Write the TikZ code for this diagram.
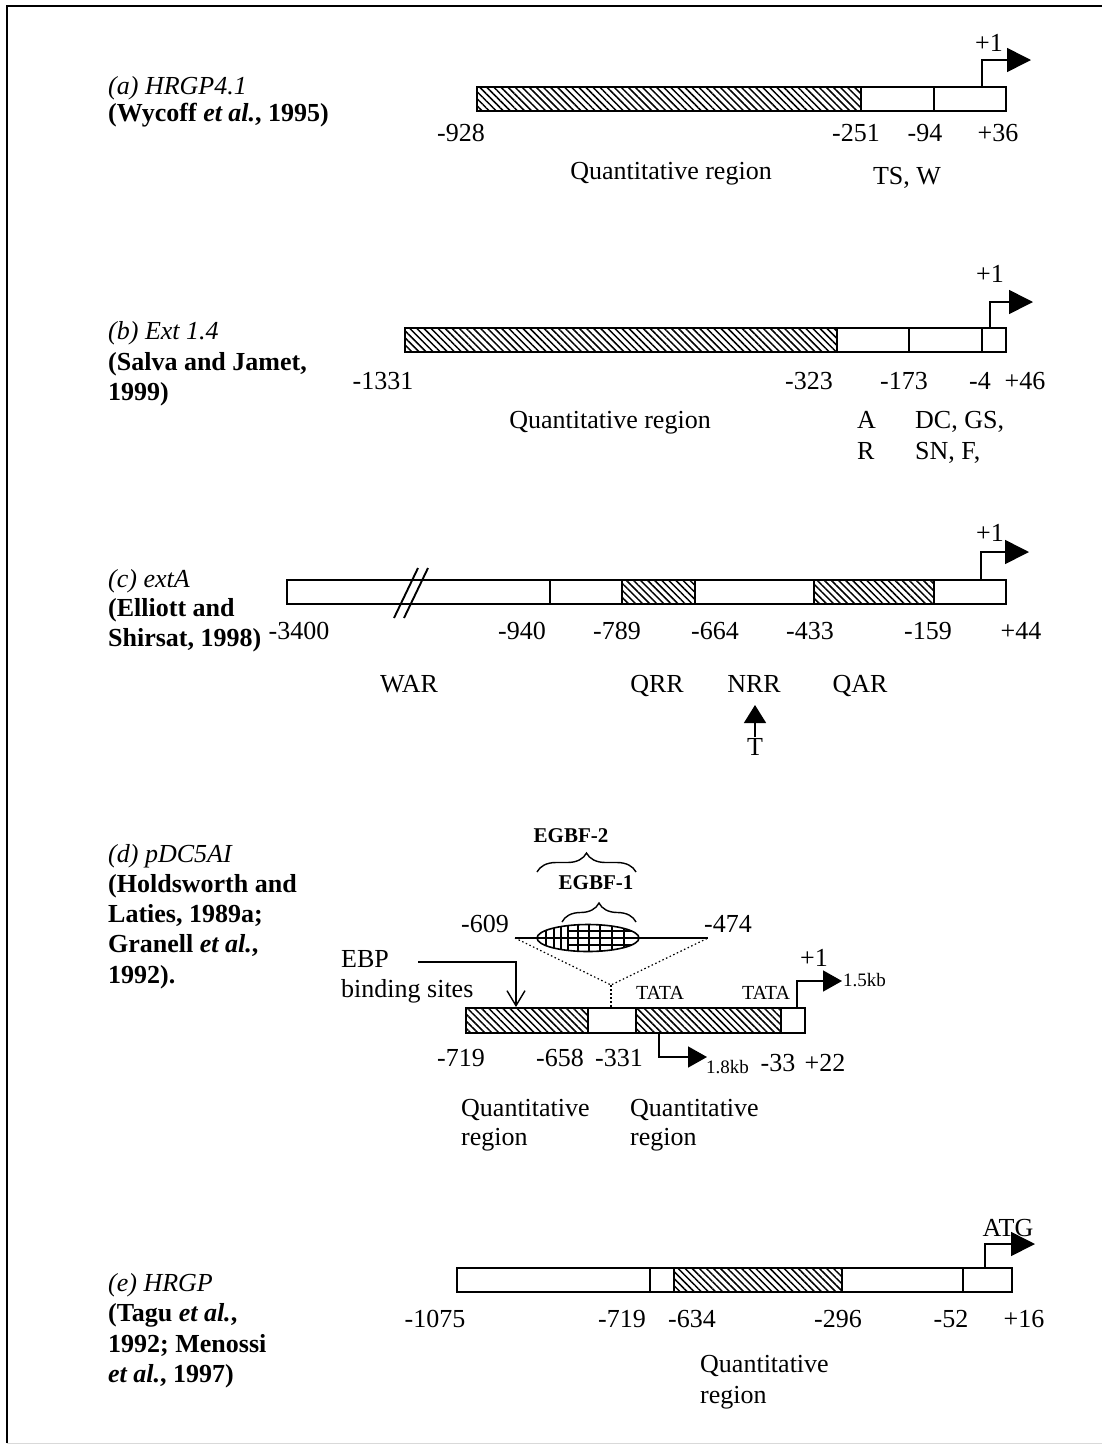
\documentclass[tikz,border=0pt]{standalone}
\usepackage{fontspec}
\setmainfont{Liberation Serif}
\usetikzlibrary{arrows.meta,patterns.meta,decorations.pathreplacing}
\begin{document}
\begin{tikzpicture}[x=1pt,y=-1pt,
 seg/.style={draw,line width=1.7pt,fill=white},
 hseg/.style={draw,line width=1.7pt,pattern={Lines[angle=-45,distance=5pt,line width=1.5pt]}},
 txt/.style={font=\fontsize{26}{30}\selectfont,inner sep=0pt,anchor=base},
 ltxt/.style={txt,anchor=base west},
 ital/.style={ltxt,font=\fontsize{26}{30}\selectfont\itshape},
 bld/.style={ltxt,font=\fontsize{26}{30}\selectfont\bfseries},
 sm/.style={font=\fontsize{20}{24}\selectfont,inner sep=0pt,anchor=base},
 smb/.style={sm,font=\fontsize{21}{24}\selectfont\bfseries},
 tss/.style={line width=1.6pt,-{Triangle[length=24pt,width=24pt]}},
 tssd/.style={line width=1.6pt,-{Triangle[length=19pt,width=21pt]}},
 dots/.style={line width=1.2pt,dash pattern=on 1.5pt off 2.5pt},
 brc/.style={line width=1.4pt,decorate,decoration={brace,amplitude=19pt}},
]
\useasboundingbox (0,0) rectangle (1102,1446);
% frame
\draw[line width=2pt] (7,1443) -- (7,6) -- (1102,6);
\draw[line width=1pt,black!15] (7,1443) -- (1102,1443);

% ---------- (a)
\node[ital] (la1) at (108,94) {(a) HRGP4.1};
\node[bld] (la2) at (108,121) {(Wycoff \textit{et al.}, 1995)};
\draw[hseg] (477,87) rectangle (861,111);
\draw[seg] (861,87) rectangle (934,111);
\draw[seg] (934,87) rectangle (1006,111);
\coordinate (a0) at (982,87); \coordinate (a1) at (1031,60);
\draw[tss] (a0) |- (a1);
\node[txt] (ap1) at (989,51) {+1};
\node[txt] (an1) at (461,141) {-928};
\node[txt] (an2) at (856,141) {-251};
\node[txt] (an3) at (925,141) {-94};
\node[txt] (an4) at (998,141) {+36};
\node[txt] (aq) at (671,179) {Quantitative region};
\node[txt] (ats) at (907,184) {TS, W};

% ---------- (b)
\node[ital] (lb1) at (108,339) {(b) Ext 1.4};
\node[bld] (lb2) at (108,370) {(Salva and Jamet,};
\node[bld] (lb3) at (108,400) {1999)};
\draw[hseg] (405,328) rectangle (837,352);
\draw[seg] (837,328) rectangle (909,352);
\draw[seg] (909,328) rectangle (982,352);
\draw[seg] (982,328) rectangle (1006,352);
\coordinate (b0) at (990,328); \coordinate (b1) at (1033,302);
\draw[tss] (b0) |- (b1);
\node[txt] (bp1) at (990,282) {+1};
\node[txt] (bn1) at (383,389) {-1331};
\node[txt] (bn2) at (809,389) {-323};
\node[txt] (bn3) at (904,389) {-173};
\node[txt] (bn4) at (980,389) {-4};
\node[txt] (bn5) at (1025,389) {+46};
\node[txt] (bq) at (610,428) {Quantitative region};
\node[ltxt] (bA) at (857,428) {A};
\node[ltxt] (bDC) at (915,428) {DC, GS,};
\node[ltxt] (bR) at (857,459) {R};
\node[ltxt] (bSN) at (915,459) {SN, F,};

% ---------- (c)
\node[ital] (lc1) at (108,587) {(c) extA};
\node[bld] (lc2) at (108,616) {(Elliott and};
\node[bld] (lc3) at (108,646) {Shirsat, 1998)};
\draw[seg] (287,580) rectangle (550,604);
\draw[seg] (550,580) rectangle (622,604);
\draw[hseg] (622,580) rectangle (695,604);
\draw[seg] (695,580) rectangle (814,604);
\draw[hseg] (814,580) rectangle (934,604);
\draw[seg] (934,580) rectangle (1006,604);
\draw[line width=1.9pt] (394,618) -- (418,568);
\draw[line width=1.9pt] (404,618) -- (428,568);
\coordinate (c0) at (981,580); \coordinate (c1) at (1029,552);
\draw[tss] (c0) |- (c1);
\node[txt] (cp1) at (990,541) {+1};
\node[txt] (cn1) at (299,639) {-3400};
\node[txt] (cn2) at (522,639) {-940};
\node[txt] (cn3) at (617,639) {-789};
\node[txt] (cn4) at (715,639) {-664};
\node[txt] (cn5) at (810,639) {-433};
\node[txt] (cn6) at (928,639) {-159};
\node[txt] (cn7) at (1021,639) {+44};
\node[txt] (cwar) at (409,692) {WAR};
\node[txt] (cqrr) at (657,692) {QRR};
\node[txt] (cnrr) at (754,692) {NRR};
\node[txt] (cqar) at (860,692) {QAR};
\node[txt] (cT) at (755,755) {T};
\coordinate (cT0) at (755,737); \coordinate (cT1) at (755,705);
\draw[line width=1.5pt,-{Triangle[length=18pt,width=22pt]}] (cT0) -- (cT1);

% ---------- (d)
\node[ital] (ld1) at (108,862) {(d) pDC5AI};
\node[bld] (ld2) at (108,892) {(Holdsworth and};
\node[bld] (ld3) at (108,922) {Laties, 1989a;};
\node[bld] (ld4) at (108,952) {Granell \textit{et al.},};
\node[bld] (ld5) at (108,983) {1992).};
\draw[hseg] (466,1008) rectangle (588,1033);
\draw[seg] (588,1008) rectangle (636,1033);
\draw[hseg] (636,1008) rectangle (781,1033);
\draw[seg] (781,1008) rectangle (805,1033);
% zoomed segment
\coordinate (zl) at (515,938); \coordinate (zr) at (708,938);
\coordinate (zm) at (611,985); \coordinate (zb) at (611,1008);
\draw[dots] (zl) -- (zm) -- (zr);
\draw[dots] (zm) -- (zb);
\draw[line width=1.5pt] (zl) -- (zr);
\begin{scope}
\clip (588,938) ellipse [x radius=51,y radius=13.5];
\fill[white] (530,920) rectangle (645,956);
\foreach \x in {546,554,561} \draw[line width=1.3pt] (\x,920) -- (\x,956);
\foreach \x in {568,578,589,600,612,624} \draw[line width=1.4pt] (\x,920) -- (\x,956);
\foreach \y in {931,945} \draw[line width=1.4pt] (568,\y) -- (645,\y);
\draw[line width=1.3pt] (530,938) -- (645,938);
\end{scope}
\draw[line width=1.6pt] (588,938) ellipse [x radius=51,y radius=13.5];
\draw[brc] (562,922) -- (636,922);
\draw[brc] (537,872) -- (636,872);
\node[smb] (egbf2) at (571,842) {EGBF-2};
\node[smb] (egbf1) at (596,889) {EGBF-1};
\node[txt] (d609) at (485,932) {-609};
\node[txt] (d474) at (728,932) {-474};
\node[ltxt] (debp) at (341,967) {EBP};
\node[ltxt] (dbind) at (341,997) {binding sites};
\coordinate (e0) at (418,962); \coordinate (e1) at (516,1007);
\draw[line width=1.4pt,-{Straight Barb[length=15pt,width=18pt]}] (e0) -| (e1);
\node[sm] (tata1) at (660,999) {TATA};
\node[sm] (tata2) at (766,999) {TATA};
\node[txt] (dp1) at (814,966) {+1};
\coordinate (d0) at (797,1008); \coordinate (d1) at (842,981);
\draw[tssd] (d0) |- (d1);
\node[sm,anchor=base west,font=\fontsize{19}{22}\selectfont] (d15) at (843,986) {1.5kb};
\coordinate (f0) at (659,1033); \coordinate (f1) at (707,1057);
\draw[tssd] (f0) |- (f1);
\node[sm,anchor=base west,font=\fontsize{19}{22}\selectfont] (d18) at (706,1073) {1.8kb};
\node[txt] (dn1) at (461,1066) {-719};
\node[txt] (dn2) at (560,1066) {-658};
\node[txt] (dn3) at (619,1066) {-331};
\node[txt] (dn4) at (778,1071) {-33};
\node[txt] (dn5) at (825,1071) {+22};
\node[ltxt] (dq1) at (461,1116) {Quantitative};
\node[ltxt] (dr1) at (461,1145) {region};
\node[ltxt] (dq2) at (630,1116) {Quantitative};
\node[ltxt] (dr2) at (630,1145) {region};

% ---------- (e)
\node[ital] (le1) at (108,1291) {(e) HRGP};
\node[bld] (le2) at (108,1321) {(Tagu \textit{et al.},};
\node[bld] (le3) at (108,1352) {1992; Menossi};
\node[bld] (le4) at (108,1382) {\textit{et al.}, 1997)};
\draw[seg] (457,1268) rectangle (650,1292);
\draw[seg] (650,1268) rectangle (674,1292);
\draw[hseg] (674,1268) rectangle (842,1292);
\draw[seg] (842,1268) rectangle (963,1292);
\draw[seg] (963,1268) rectangle (1012,1292);
\coordinate (g0) at (985,1268); \coordinate (g1) at (1035,1244);
\draw[tss] (g0) |- (g1);
\node[txt] (eatg) at (1008,1236) {ATG};
\node[txt] (en1) at (435,1327) {-1075};
\node[txt] (en2) at (622,1327) {-719};
\node[txt] (en3) at (692,1327) {-634};
\node[txt] (en4) at (838,1327) {-296};
\node[txt] (en5) at (951,1327) {-52};
\node[txt] (en6) at (1024,1327) {+16};
\node[ltxt] (eq) at (700,1372) {Quantitative};
\node[ltxt] (er) at (700,1403) {region};
\end{tikzpicture}
\end{document}
